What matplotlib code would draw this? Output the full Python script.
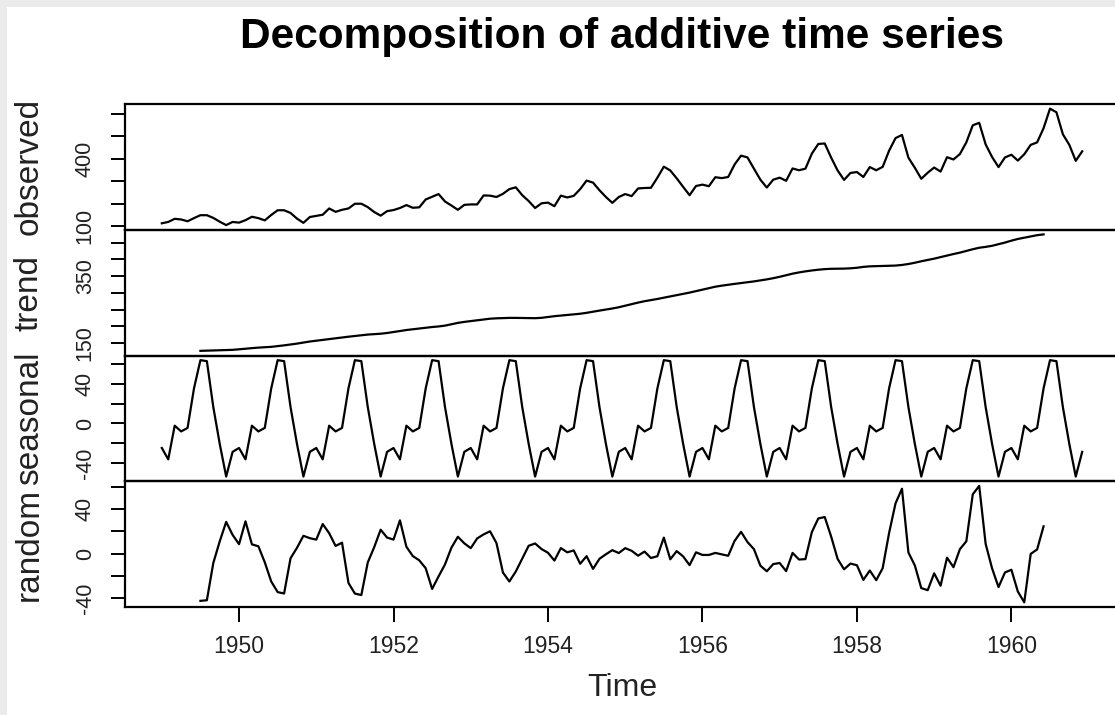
import matplotlib
matplotlib.use("Agg")
import matplotlib.pyplot as plt
from matplotlib.patches import Rectangle
import numpy as np

# ---------------- data (AirPassengers, monthly, additive decomposition) ----------------
start_year = 1949
freq = 12

observed = [
    112, 118, 132, 129, 121, 135, 148, 148, 136, 119, 104, 118,
    115, 126, 141, 135, 125, 149, 170, 170, 158, 133, 114, 140,
    145, 150, 178, 163, 172, 178, 199, 199, 184, 162, 146, 166,
    171, 180, 193, 181, 183, 218, 230, 242, 209, 191, 172, 194,
    196, 196, 236, 235, 229, 243, 264, 272, 237, 211, 180, 201,
    204, 188, 235, 227, 234, 264, 302, 293, 259, 229, 203, 229,
    242, 233, 267, 269, 270, 315, 364, 347, 312, 274, 237, 278,
    284, 277, 317, 313, 318, 374, 413, 405, 355, 306, 271, 306,
    315, 301, 356, 348, 355, 422, 465, 467, 404, 347, 305, 336,
    340, 318, 362, 348, 363, 435, 491, 505, 404, 359, 310, 337,
    360, 342, 406, 396, 420, 472, 548, 559, 463, 407, 362, 405,
    417, 391, 419, 461, 472, 535, 622, 606, 508, 461, 390, 432,
]

# trend and random exist from July 1949 (offset 6) to June 1960
comp_offset = 6
trend = [
    126.79, 127.25, 127.96, 128.58, 129.00, 129.75,
    131.25, 133.08, 134.92, 136.42, 137.42, 138.75, 140.92, 143.17, 145.71, 148.42, 151.54, 154.71,
    157.13, 159.54, 161.83, 164.13, 166.67, 169.08, 171.25, 173.58, 175.46, 176.83, 178.04, 180.17,
    183.13, 186.21, 189.04, 191.29, 193.58, 195.83, 198.04, 199.75, 202.21, 206.25, 210.42, 213.38,
    215.83, 218.50, 220.92, 222.92, 224.08, 224.71, 225.33, 225.33, 224.96, 224.58, 224.46, 225.54,
    228.00, 230.46, 232.25, 233.92, 235.63, 237.75, 240.50, 243.96, 247.17, 250.25, 253.50, 257.13,
    261.83, 266.67, 271.13, 275.21, 278.50, 281.96, 285.75, 289.33, 293.25, 297.17, 301.00, 305.46,
    309.96, 314.42, 318.63, 321.75, 324.50, 327.08, 329.54, 331.83, 334.46, 337.54, 340.54, 344.08,
    348.25, 353.00, 357.63, 361.38, 364.50, 367.17, 369.46, 371.21, 372.17, 372.42, 372.75, 373.63,
    375.25, 377.92, 379.50, 380.00, 380.71, 380.96, 381.83, 383.67, 386.50, 390.33, 394.71, 398.63,
    402.54, 407.17, 411.88, 416.33, 420.50, 425.50, 430.71, 435.13, 437.71, 440.96, 445.83, 450.63,
    456.33, 461.38, 465.21, 469.33, 472.75, 475.04,
]

seasonal = [
    -24.75, -36.19, -2.24, -8.04, -4.51, 35.40, 63.83, 62.82, 16.52, -20.64, -53.59, -28.62,
    -24.75, -36.19, -2.24, -8.04, -4.51, 35.40, 63.83, 62.82, 16.52, -20.64, -53.59, -28.62,
    -24.75, -36.19, -2.24, -8.04, -4.51, 35.40, 63.83, 62.82, 16.52, -20.64, -53.59, -28.62,
    -24.75, -36.19, -2.24, -8.04, -4.51, 35.40, 63.83, 62.82, 16.52, -20.64, -53.59, -28.62,
    -24.75, -36.19, -2.24, -8.04, -4.51, 35.40, 63.83, 62.82, 16.52, -20.64, -53.59, -28.62,
    -24.75, -36.19, -2.24, -8.04, -4.51, 35.40, 63.83, 62.82, 16.52, -20.64, -53.59, -28.62,
    -24.75, -36.19, -2.24, -8.04, -4.51, 35.40, 63.83, 62.82, 16.52, -20.64, -53.59, -28.62,
    -24.75, -36.19, -2.24, -8.04, -4.51, 35.40, 63.83, 62.82, 16.52, -20.64, -53.59, -28.62,
    -24.75, -36.19, -2.24, -8.04, -4.51, 35.40, 63.83, 62.82, 16.52, -20.64, -53.59, -28.62,
    -24.75, -36.19, -2.24, -8.04, -4.51, 35.40, 63.83, 62.82, 16.52, -20.64, -53.59, -28.62,
    -24.75, -36.19, -2.24, -8.04, -4.51, 35.40, 63.83, 62.82, 16.52, -20.64, -53.59, -28.62,
    -24.75, -36.19, -2.24, -8.04, -4.51, 35.40, 63.83, 62.82, 16.52, -20.64, -53.59, -28.62,
]

random_comp = [
    -42.62, -42.07, -8.48, 11.06, 28.59, 16.87,
    8.50, 29.11, 8.32, 6.62, -7.91, -25.15, -34.75, -35.99, -4.23, 5.22, 16.05, 13.91,
    12.62, 26.65, 18.41, 6.91, 9.84, -26.48, -36.08, -37.40, -7.98, 5.81, 21.55, 14.45,
    12.62, 29.98, 6.20, -2.25, -6.07, -13.23, -31.87, -20.57, -9.73, 5.39, 15.17, 9.24,
    4.92, 13.69, 17.32, 20.12, 9.43, -17.11, -25.16, -16.15, -4.48, 7.06, 9.13, 4.08,
    0.75, -6.27, 4.99, 1.12, 2.88, -9.15, -2.33, -13.78, -4.69, -0.61, 3.09, 0.49,
    4.92, 2.52, -1.89, 1.83, -3.99, -2.36, 14.42, -5.15, 2.23, -2.53, -10.41, 1.16,
    -1.21, -1.23, 0.61, -0.71, -1.99, 11.52, 19.63, 10.35, 4.02, -10.90, -15.95, -9.46,
    -8.50, -15.81, 0.61, -5.34, -4.99, 19.43, 31.71, 32.97, 15.31, -4.78, -14.16, -9.01,
    -10.50, -23.73, -15.26, -23.96, -13.20, 18.64, 45.34, 58.51, 0.98, -10.69, -31.12, -33.01,
    -17.79, -28.98, -3.64, -12.29, 4.01, 11.10, 53.46, 61.05, 8.77, -13.32, -30.24, -17.01,
    -14.58, -34.19, -43.97, -0.29, 3.76, 24.56,
]

panel_names = ["observed", "trend", "seasonal", "random"]
x_ticks = [1950, 1952, 1954, 1956, 1958, 1960]
y_ticks = {
    "observed": [100, 200, 300, 400, 500, 600],
    "trend": [150, 200, 250, 300, 350, 400, 450],
    "seasonal": [-40, -20, 0, 20, 40, 60],
    "random": [-40, -20, 0, 20, 40, 60],
}
y_labels_shown = {
    "observed": ["100", "400"],
    "trend": ["150", "350"],
    "seasonal": ["-40", "0", "40"],
    "random": ["-40", "0", "40"],
}
title = "Decomposition of additive time series"
x_label = "Time"

# ---------------- figure ----------------
W, H = 1115, 715
plt.rcParams["font.family"] = ["Liberation Sans", "DejaVu Sans"]
fig = plt.figure(figsize=(W / 100, H / 100), dpi=100)
fig.patch.set_facecolor("white")
# screenshot frame strips
fig.patches.append(Rectangle((0, 1 - 7 / H), 1, 7 / H, transform=fig.transFigure,
                             facecolor="#ebebeb", edgecolor="none", zorder=-1))
fig.patches.append(Rectangle((0, 0), 7 / W, 1, transform=fig.transFigure,
                             facecolor="#ebebeb", edgecolor="none", zorder=-1))

left_px, right_px = 125, 1119
top_px, bottom_px = 104, 607
ph = (bottom_px - top_px) / 4
aw = right_px - left_px

t_obs = start_year + np.arange(len(observed)) / freq
t_comp = start_year + (comp_offset + np.arange(len(trend))) / freq

series = {
    "observed": (t_obs, observed),
    "trend": (t_comp, trend),
    "seasonal": (t_obs, seasonal),
    "random": (t_comp, random_comp),
}

for i, name in enumerate(panel_names):
    y0 = top_px + i * ph
    ax = fig.add_axes([left_px / W, 1 - (y0 + ph) / H, aw / W, ph / H])
    ax.set_facecolor("none")
    xs, ys = series[name]
    ax.plot(xs, ys, color="black", lw=1.6)
    span = t_obs[-1] - t_obs[0]
    ax.set_xlim(t_obs[0] - 0.04 * span, t_obs[-1] + 0.04 * span)
    lo, hi = min(ys), max(ys)
    ax.set_ylim(lo - 0.04 * (hi - lo), hi + 0.04 * (hi - lo))
    ticks = y_ticks[name]
    ax.set_yticks(ticks)
    ax.set_yticklabels([str(t) if str(t) in y_labels_shown[name] else "" for t in ticks],
                       rotation=90, va="center", fontsize=15.5, color="#222222")
    ax.tick_params(axis="y", direction="out", length=10, width=1.4, pad=11)
    for sp in ax.spines.values():
        sp.set_linewidth(1.6)
    ax.set_ylabel(name, fontsize=24, color="#222222")
    ax.yaxis.label.set_verticalalignment("baseline")
    ax.yaxis.set_label_coords((38 - left_px) / aw, 0.5)
    if i < 3:
        ax.set_xticks([])
    else:
        ax.set_xticks(x_ticks)
        ax.set_xticklabels([str(t) for t in x_ticks], fontsize=16.5, color="#222222")
        ax.tick_params(axis="x", direction="out", length=11, width=1.4, pad=9)
        ax.set_xlabel(x_label, fontsize=23, labelpad=11, color="#222222")

fig.text((left_px + right_px) / 2 / W, 1 - 37 / H, title, ha="center", va="center",
         fontsize=30.5, fontweight="bold")

fig.savefig("out.png", dpi=100)
